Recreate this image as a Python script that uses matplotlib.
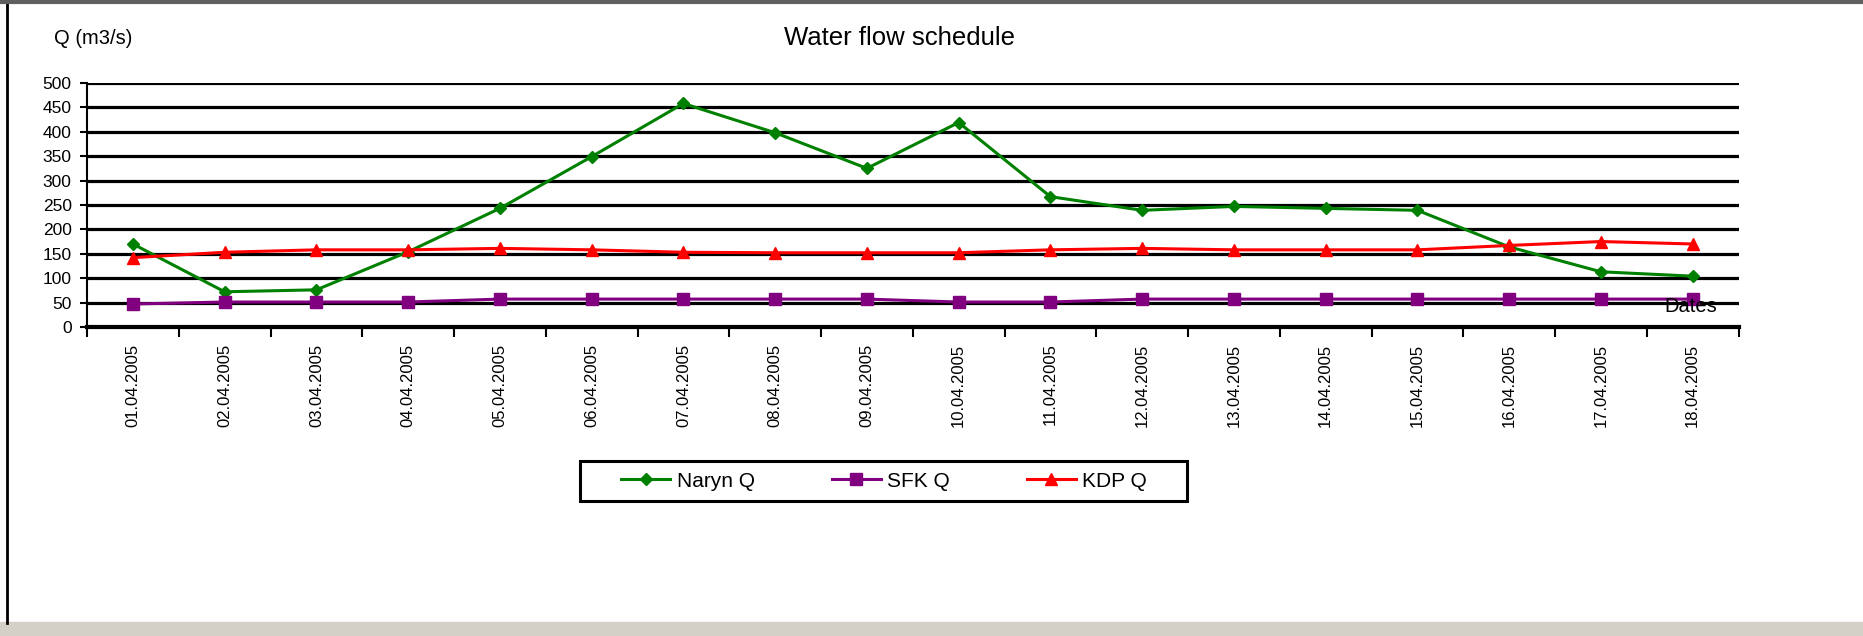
import numpy as np
import matplotlib.pyplot as plt
from matplotlib.lines import Line2D
from matplotlib.patches import Rectangle

plt.rcParams['font.family'] = ['Liberation Sans', 'DejaVu Sans']

dates = ["01.04.2005", "02.04.2005", "03.04.2005", "04.04.2005", "05.04.2005",
         "06.04.2005", "07.04.2005", "08.04.2005", "09.04.2005", "10.04.2005",
         "11.04.2005", "12.04.2005", "13.04.2005", "14.04.2005", "15.04.2005",
         "16.04.2005", "17.04.2005", "18.04.2005"]
naryn_q = [170, 72, 76, 154, 243, 349, 458, 398, 325, 419,
           267, 239, 247, 243, 239, 164, 113, 104]
sfk_q = [47, 51, 51, 51, 57, 57, 57, 57, 57, 51,
         51, 57, 57, 57, 57, 57, 57, 57]
kdp_q = [142, 153, 158, 158, 161, 158, 153, 152, 152, 152,
         158, 161, 158, 158, 158, 167, 175, 170]
yticks = list(range(0, 501, 50))

fig = plt.figure(figsize=(18.63, 6.36), dpi=100)
ax = fig.add_axes([0.0467, 0.486, 0.8865, 0.3835])

x = np.arange(len(dates)) + 0.5

ax.plot(x, naryn_q, "-", color="#008000", lw=2.2, marker="D", ms=6, label="Naryn Q")
ax.plot(x, sfk_q, "-", color="#800080", lw=2.2, marker="s", ms=8, label="SFK Q")
ax.plot(x, kdp_q, "-", color="#ff0000", lw=2.2, marker="^", ms=8, label="KDP Q")

ax.set_xlim(0, len(dates))
ax.set_ylim(0, 500)
ax.set_yticks(yticks)
ax.yaxis.grid(True, color="black", lw=2.3)
ax.set_axisbelow(True)
ax.tick_params(axis="y", labelsize=12.5, length=5, width=1.5, pad=6)

# category boundaries get the ticks, labels sit between them (Excel style)
ax.set_xticks(np.arange(len(dates) + 1))
ax.set_xticklabels([])
ax.tick_params(axis="x", which="major", length=7, width=1.5, direction="out")
ax.set_xticks(x, minor=True)
ax.set_xticklabels(dates, minor=True, rotation=90, fontsize=12)
ax.tick_params(axis="x", which="minor", length=0, pad=12)

for s in ["top", "right"]:
    ax.spines[s].set_visible(False)
ax.spines["left"].set_linewidth(1.5)
ax.spines["bottom"].set_linewidth(3)

ax.text(0.971, 0.045, "Dates", transform=ax.transAxes, fontsize=14.5, ha="center", va="bottom")

fig.text(0.483, 0.940, "Water flow schedule", fontsize=18.5, ha="center", va="center")
fig.text(0.029, 0.940, "Q (m3/s)", fontsize=14.5, ha="left", va="center")

leg = fig.legend(loc="center", bbox_to_anchor=(0.4745, 0.2437), ncol=3, fontsize=15,
                 frameon=False, handlelength=2.35, handletextpad=0.3,
                 columnspacing=3.7)
fig.add_artist(Rectangle((0.3113, 0.2123), 0.3258, 0.0629, fill=False,
                         edgecolor="black", lw=2.2, transform=fig.transFigure))

# window frame
fig.add_artist(Line2D([0.004, 0.004], [0.02, 1.0], color="black", lw=2, transform=fig.transFigure))
fig.add_artist(Line2D([0, 1], [0.997, 0.997], color="#606060", lw=3, transform=fig.transFigure))
fig.add_artist(Rectangle((0, 0), 1, 0.022, color="#d4d0c8", transform=fig.transFigure))

plt.savefig("out.png", dpi=100)
